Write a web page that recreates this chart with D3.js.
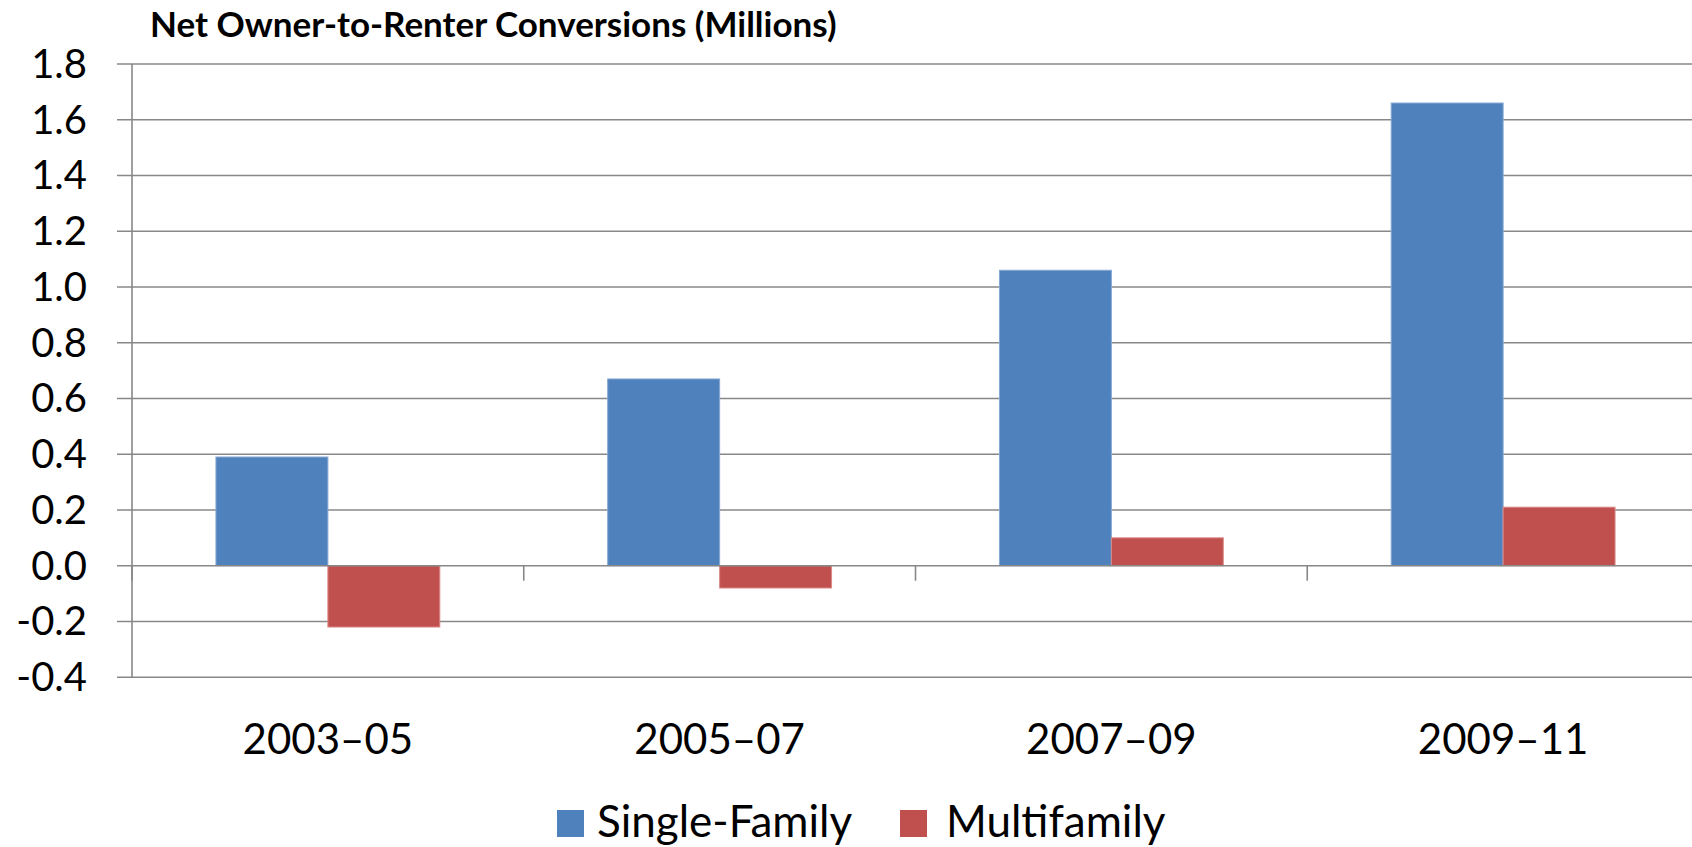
<!DOCTYPE html>
<html>
<head>
<meta charset="utf-8">
<script src="https://cdn.jsdelivr.net/npm/d3@7/dist/d3.min.js"></script>
<style>
  html, body { margin: 0; padding: 0; background: #ffffff; }
  svg { display: block; }
  text { font-family: Lato, "Open Sans", sans-serif; fill: #000; }
</style>
</head>
<body>
<svg id="chart" width="1692" height="847"></svg>
<script>
// Net owner-to-renter conversions, millions of units
const periods = ["2003–05", "2005–07", "2007–09", "2009–11"];
const singleFamily = [0.39, 0.67, 1.06, 1.66];
const multifamily = [-0.22, -0.08, 0.10, 0.21];
const seriesNames = ["Single-Family", "Multifamily"];
const seriesColors = ["#4F81BD", "#C0504D"];
const seriesEdges = ["#86a8d4", "#d98a88"];
const yTicks = [-0.4, -0.2, 0.0, 0.2, 0.4, 0.6, 0.8, 1.0, 1.2, 1.4, 1.6, 1.8];
const title = "Net Owner-to-Renter Conversions (Millions)";

const svg = d3.select("#chart");
const gridColor = "#888888";

const plot = { left: 132, right: 1699, top: 64, bottom: 677.2 };

const x = d3.scaleBand().domain(periods).range([plot.left, plot.right]).paddingInner(0).paddingOuter(0);
// two bars per category with a 150% gap between groups
const barW = x.bandwidth() / 3.5;
const xs = d3.scaleBand().domain(seriesNames).range([0.75 * barW, 2.75 * barW]).padding(0);

const y = d3.scaleLinear().domain([-0.4, 1.8]).range([plot.bottom, plot.top]);

// tick labels use a plain hyphen for negatives
const fmt = d => d3.format(".1f")(d).replace("\u2212", "-");

// horizontal gridlines with short outside ticks
svg.append("g").selectAll("line").data(yTicks.filter(d => d !== 0)).join("line")
  .attr("x1", plot.left - 15).attr("x2", 1692)
  .attr("y1", d => y(d)).attr("y2", d => y(d))
  .attr("stroke", gridColor).attr("stroke-width", 1.6);

// bars
const rows = periods.map((p, i) => ({ period: p, values: [singleFamily[i], multifamily[i]] }));
const groups = svg.append("g").selectAll("g").data(rows).join("g")
  .attr("transform", d => `translate(${x(d.period)},0)`);
groups.selectAll("rect").data(d => d.values.map((v, k) => ({ v, k }))).join("rect")
  .attr("x", d => xs(seriesNames[d.k]))
  .attr("width", xs.bandwidth())
  .attr("y", d => y(Math.max(0, d.v)))
  .attr("height", d => Math.abs(y(d.v) - y(0)))
  .attr("fill", d => seriesColors[d.k])
  .attr("stroke", d => seriesEdges[d.k])
  .attr("stroke-width", 1);

// zero baseline and category tick marks
svg.append("line")
  .attr("x1", plot.left - 15).attr("x2", 1692)
  .attr("y1", y(0)).attr("y2", y(0))
  .attr("stroke", gridColor).attr("stroke-width", 1.6);
svg.append("g").selectAll("line").data(periods.concat(["end"])).join("line")
  .attr("x1", (d, i) => plot.left + i * x.bandwidth())
  .attr("x2", (d, i) => plot.left + i * x.bandwidth())
  .attr("y1", y(0)).attr("y2", y(0) + 15)
  .attr("stroke", gridColor).attr("stroke-width", 1.6);

// vertical value axis line
svg.append("line")
  .attr("x1", plot.left).attr("x2", plot.left)
  .attr("y1", plot.top).attr("y2", plot.bottom)
  .attr("stroke", gridColor).attr("stroke-width", 1.6);

// value labels
svg.append("g").selectAll("text").data(yTicks).join("text")
  .attr("x", 87).attr("y", d => y(d) + 14)
  .attr("text-anchor", "end")
  .style("font-size", "40px")
  .text(fmt);

// category labels
svg.append("g").selectAll("text").data(periods).join("text")
  .attr("x", d => x(d) + x.bandwidth() / 2).attr("y", 754)
  .attr("text-anchor", "middle")
  .style("font-size", "42px")
  .text(d => d);

// title
svg.append("text")
  .attr("x", 150).attr("y", 37)
  .style("font-size", "35px").style("font-weight", "bold")
  .text(title);

// legend
const legendItems = [
  { name: seriesNames[0], color: seriesColors[0], sx: 557, tx: 597 },
  { name: seriesNames[1], color: seriesColors[1], sx: 900, tx: 946 }
];
const lg = svg.append("g").selectAll("g").data(legendItems).join("g");
lg.append("rect")
  .attr("x", d => d.sx).attr("y", 810).attr("width", 27).attr("height", 27)
  .attr("fill", d => d.color);
lg.append("text")
  .attr("x", d => d.tx).attr("y", 837)
  .style("font-size", "44px")
  .text(d => d.name);
</script>
</body>
</html>
